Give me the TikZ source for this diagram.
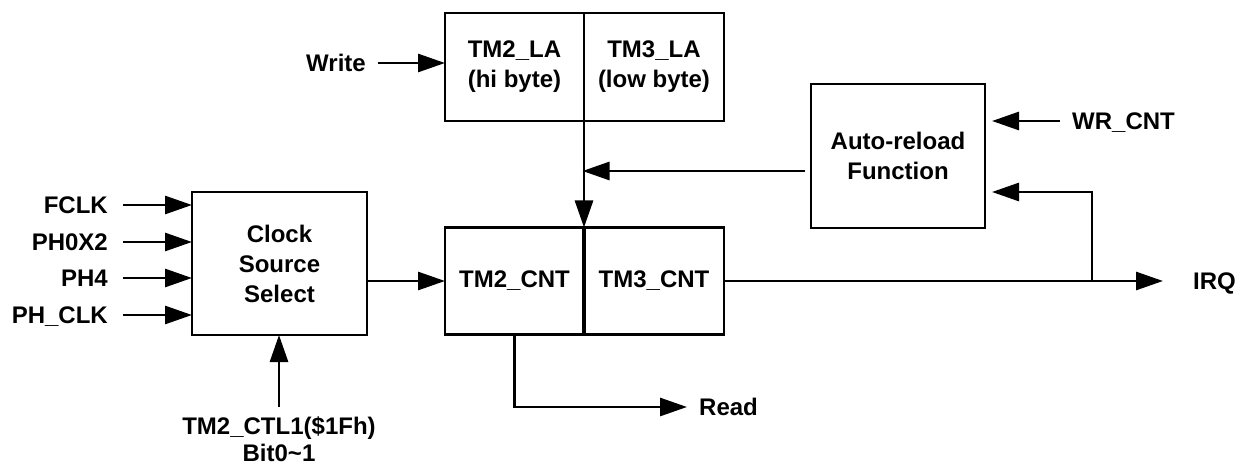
\documentclass[tikz,border=0pt]{standalone}
\usepackage{fontspec}
\setmainfont{Liberation Sans}
\usetikzlibrary{arrows.meta,positioning}
\tikzset{x=1pt, y=-1pt,
  blk/.style={draw, line width=2.8pt, outer sep=0pt, inner sep=0pt, align=center,
    font=\bfseries\fontsize{24}{30}\selectfont},
  sig/.style={inner sep=0pt, text height=17pt, text depth=0pt,
    font=\bfseries\fontsize{24}{30}\selectfont},
  lbl/.style={inner sep=0pt, align=center, font=\bfseries\fontsize{24}{27}\selectfont},
  arr/.style={line width=2.8pt, -{Triangle[length=27pt,width=18pt]}}}

\begin{document}
\begin{tikzpicture}
  \useasboundingbox (0,0) rectangle (1243,465);
  % blocks
  \node[blk, minimum width=175pt, minimum height=143pt] (clk) at (279.5,263.5) {Clock\\Source\\Select};
  \node[blk, minimum width=139pt, minimum height=108pt] (la2) at (514.5,67) {TM2\_LA\\(hi byte)};
  \node[blk, minimum width=140pt, minimum height=108pt, right=0pt of la2] (la3) {TM3\_LA\\(low byte)};
  \node[blk, minimum width=139pt, minimum height=107pt] (cnt2) at (514.5,281) {TM2\_CNT};
  \node[blk, minimum width=140pt, minimum height=107pt, right=0pt of cnt2] (cnt3) {TM3\_CNT};
  \node[blk, minimum width=174pt, minimum height=144pt] (reload) at (898,156) {Auto-reload\\Function};
  \draw[line width=4.2pt] (cnt2.north east) -- (cnt2.south east);

  % clock inputs
  \foreach \n/\t/\y in {fclk/FCLK/205, phx/PH0X2/242, phf/PH4/278, phc/PH\_CLK/315} {
    \node[sig, anchor=east] (\n) at (108,\y) {\t};
    \draw[arr, shorten <=15pt] (\n) -- (\n -| clk.west);
  }
  \node[lbl, anchor=north] (ctl) at (279,416) {TM2\_CTL1(\$1Fh)\\Bit0\textasciitilde1};
  \draw[arr, shorten <=9pt] (ctl.north) -- (ctl.north |- clk.south);
  \draw[arr] (clk.east |- cnt2.west) -- (cnt2.west);

  % latch and reload
  \node[sig, anchor=east] (wr) at (366,63) {Write};
  \draw[arr, shorten <=12pt] (wr) -- (wr -| la2.west);
  \draw[arr] (la2.south east) -- (cnt2.north east);
  \coordinate (rl) at ([xshift=-6pt,yshift=-15pt]reload.west);
  \draw[arr, shorten >=-1.5pt] (rl) -- (rl -| la2.east);
  \node[sig, anchor=west] (wrc) at (1072,121) {WR\_CNT};
  \draw[arr, shorten <=12pt, shorten >=7pt] (wrc) -- (wrc -| reload.east);

  % outputs
  \node[sig, anchor=west] (irq) at (1193,281) {IRQ};
  \draw[arr, shorten >=30pt] (cnt3) -- (irq);
  \coordinate (tap) at (1092,281);
  \draw[arr] (tap) |- ([xshift=7pt,yshift=-36pt]reload.east);
  \node[sig, anchor=west] (rd) at (699,407) {Read};
  \draw[arr, shorten >=12pt] (cnt2.south) |- (rd);
\end{tikzpicture}
\end{document}
